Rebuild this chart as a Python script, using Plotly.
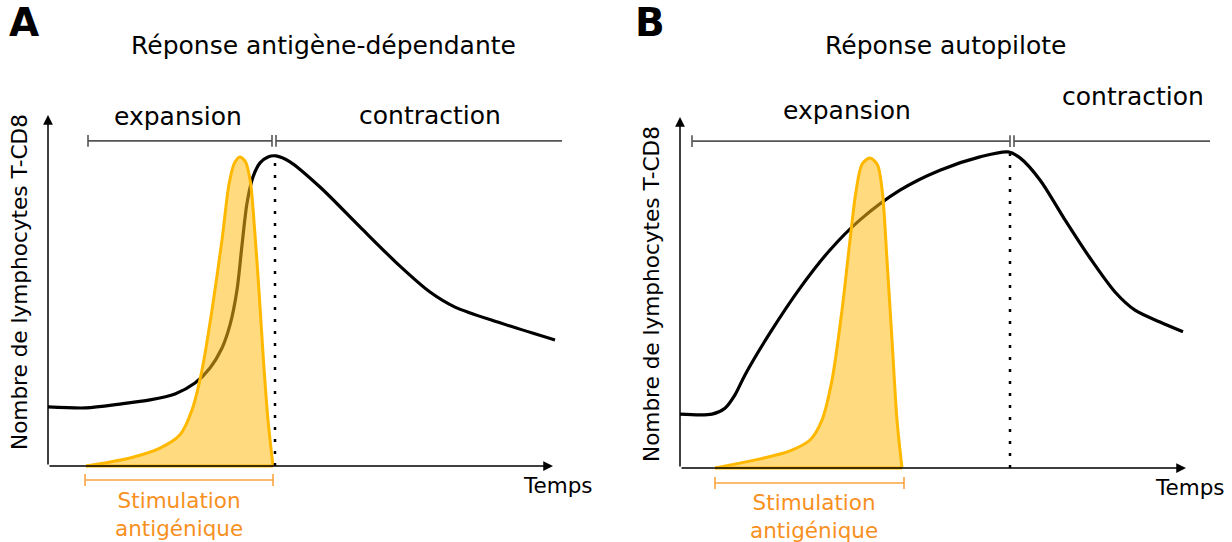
import plotly.graph_objects as go

# ---------------- data (time in arbitrary units, cells in arbitrary units) ----------------
# Panel A : antigen-dependent response
a_time = [0, 7.6, 14.4, 20.4, 25.4, 29.4, 32.4, 34.8, 36.4, 37.8, 38.8, 39.8, 41, 42.4, 44,
          45.6, 48.4, 54.4, 62.4, 70.4, 76.4, 81.4, 90.4, 101.4]
a_cells = [16.9, 16.6, 17.7, 18.9, 20.6, 23.7, 28, 33.7, 40.3, 50.3, 63.1, 75.1, 82.6, 86.6, 88.3,
           88.6, 86.9, 79.7, 68.3, 57.1, 49.7, 45.4, 40.9, 36]
a_stim_time = [7.6, 16.4, 22.4, 26.4, 28.8, 30.8, 32.8, 34.8, 36.2, 37.3, 38.4, 39.5, 40.5, 41.3, 42.2, 43.1, 44, 45]
a_stim = [0, 2.3, 5.1, 8.9, 16, 27.4, 44.6, 64.6, 80.5, 86.6, 88.3, 86.9, 81, 68, 50, 30, 13.1, 0]
a_peak = 45.4
a_expansion = [8, 44.8]
a_contraction = [45.6, 102.8]
a_stimulation = [7.4, 45]

# Panel B : autopilot response
b_time = [0, 6.4, 9, 11, 13, 18, 24, 30, 36, 44, 52, 60, 65.6, 68, 72, 77, 82, 87, 91, 96, 100.6]
b_cells = [15.4, 15.4, 17.1, 20.9, 26.6, 38.6, 51.4, 62.3, 70.9, 79.4, 85.1, 88.9, 90.3, 88.6,
           82.3, 70.9, 60, 50.3, 45.1, 41.7, 38.9]
b_stim_time = [7, 16, 22, 26, 28.4, 30.4, 32.4, 34, 35.2, 36.4, 38, 39.5, 40.5, 41.4, 42.4, 43.4, 44.4]
b_stim = [0, 2.6, 4.9, 8, 13.7, 25.1, 45.1, 65.1, 79, 86.8, 88.6, 86.6, 78.5, 59.4, 36.6, 13.7, 0]
b_peak = 66
b_expansion = [2.4, 66]
b_contraction = [66.8, 106]
b_stimulation = [7, 44.8]

titles = ["Réponse antigène-dépendante", "Réponse autopilote"]
panel_letters = ["A", "B"]
y_label = "Nombre de lymphocytes T-CD8"
x_label = "Temps"
phase_labels = ["expansion", "contraction"]
stim_label = "Stimulation<br>antigénique"

# ---------------- styles ----------------
W, H = 1232, 542
FONT = "DejaVu Sans"
BLACK = "#000000"
GREY = "#555555"
ORANGE_EDGE = "#FFB800"
ORANGE_FILL = "rgba(255,188,20,0.55)"
ORANGE_TEXT = "#F7901E"
ORANGE_BAR = "#F9A33F"
CAP = 1.7

fig = go.Figure()


def bracket(x0, x1, y, cap_left=True, cap_right=True):
    xs = [x0, x1, None]
    ys = [y, y, None]
    if cap_left:
        xs += [x0, x0, None]
        ys += [y - CAP, y + CAP, None]
    if cap_right:
        xs += [x1, x1, None]
        ys += [y - CAP, y + CAP, None]
    return xs, ys


def panel(xr, yr, t, cells, st, sv, peak, exp, con, stim, bar_y, stim_y):
    fig.add_trace(go.Scatter(x=t, y=cells, mode="lines", xaxis=xr, yaxis=yr,
                             line=dict(color=BLACK, width=3.2, shape="spline", smoothing=0.8),
                             hoverinfo="skip"))
    fig.add_trace(go.Scatter(x=st, y=sv, mode="lines", fill="toself", fillcolor=ORANGE_FILL,
                             xaxis=xr, yaxis=yr,
                             line=dict(color=ORANGE_EDGE, width=3, shape="spline", smoothing=0.8),
                             hoverinfo="skip"))
    fig.add_trace(go.Scatter(x=[st[0], st[-1]], y=[0, 0], mode="lines", xaxis=xr, yaxis=yr,
                             line=dict(color=ORANGE_EDGE, width=3), hoverinfo="skip"))
    pk = max(cells)
    fig.add_trace(go.Scatter(x=[peak, peak], y=[0, pk - 0.5], mode="lines", xaxis=xr, yaxis=yr,
                             line=dict(color=BLACK, width=2.5, dash="3px,9px"), hoverinfo="skip"))
    xs, ys = bracket(exp[0], exp[1], bar_y)
    fig.add_trace(go.Scatter(x=xs, y=ys, mode="lines", xaxis=xr, yaxis=yr,
                             line=dict(color=GREY, width=1.6), hoverinfo="skip"))
    xs, ys = bracket(con[0], con[1], bar_y, cap_right=False)
    fig.add_trace(go.Scatter(x=xs, y=ys, mode="lines", xaxis=xr, yaxis=yr,
                             line=dict(color=GREY, width=1.6), hoverinfo="skip"))
    xs, ys = bracket(stim[0], stim[1], stim_y)
    fig.add_trace(go.Scatter(x=xs, y=ys, mode="lines", xaxis=xr, yaxis=yr,
                             line=dict(color=ORANGE_BAR, width=1.6), hoverinfo="skip"))


panel("x", "y", a_time, a_cells, a_stim_time, a_stim, a_peak,
      a_expansion, a_contraction, a_stimulation, 92.9, -4)
panel("x2", "y2", b_time, b_cells, b_stim_time, b_stim, b_peak,
      b_expansion, b_contraction, b_stimulation, 93.4, -4.3)

annotations = []
for xr, yr, xtip, ytip in [("x", "y", 101, 100.3), ("x2", "y2", 101.2, 100.3)]:
    annotations.append(dict(x=0, y=ytip, ax=0, ay=0, xref=xr, yref=yr, axref=xr, ayref=yr,
                            showarrow=True, arrowhead=2, arrowsize=1.3, arrowwidth=1.5,
                            arrowcolor=BLACK, standoff=0, text=""))
    annotations.append(dict(x=xtip, y=0, ax=0, ay=0, xref=xr, yref=yr, axref=xr, ayref=yr,
                            showarrow=True, arrowhead=2, arrowsize=1.3, arrowwidth=1.5,
                            arrowcolor=BLACK, standoff=0, text=""))


def txt(px, py, s, size, color=BLACK, bold=False, angle=0):
    annotations.append(dict(x=px / W, y=1 - py / H, xref="paper", yref="paper", text=s,
                            showarrow=False, xanchor="center", yanchor="middle", textangle=angle,
                            font=dict(family=FONT, size=size, color=color,
                                      weight="bold" if bold else "normal")))


txt(24, 22, panel_letters[0], 39, bold=True)
txt(650, 22, panel_letters[1], 39, bold=True)
txt(323, 46, titles[0], 25)
txt(946, 46, titles[1], 25)
txt(178, 117, phase_labels[0], 25)
txt(430, 115, phase_labels[1], 25)
txt(847, 110, phase_labels[0], 25)
txt(1133, 96, phase_labels[1], 25)
txt(179, 514, stim_label, 21.5, color=ORANGE_TEXT)
txt(814, 516, stim_label, 21.5, color=ORANGE_TEXT)
txt(558, 485, x_label, 21.5)
txt(1190, 487, x_label, 21.5)
txt(20, 282, y_label, 21.6, angle=-90)
txt(651, 294, y_label, 21.6, angle=-90)

ax_common = dict(visible=False, showgrid=False, zeroline=False, fixedrange=True)
fig.update_layout(
    width=W, height=H, margin=dict(l=0, r=0, t=0, b=0),
    paper_bgcolor="white", plot_bgcolor="white", showlegend=False,
    xaxis=dict(domain=[28 / W, 568 / W], range=[-4, 104], **ax_common),
    yaxis=dict(domain=[1 - 536 / H, 1 - 116 / H], range=[-20, 100], **ax_common),
    xaxis2=dict(domain=[660 / W, 1220 / W], range=[-4, 108], anchor="y2", **ax_common),
    yaxis2=dict(domain=[1 - 538 / H, 1 - 118 / H], range=[-20, 100], anchor="x2", **ax_common),
    annotations=annotations,
)

fig.write_html("out.html", config={"displayModeBar": False},
               post_script="document.body.style.margin='0';document.body.style.overflow='hidden';")
